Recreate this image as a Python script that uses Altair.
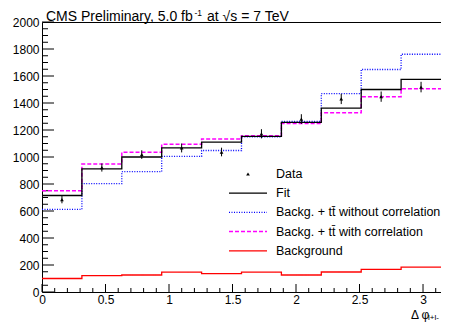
import altair as alt
import pandas as pd

# ---- data ----
edges = [0.0, 0.31416, 0.62832, 0.94248, 1.25664, 1.5708, 1.88496, 2.19911, 2.51327, 2.82743, 3.14159]
centers = [0.15708, 0.47124, 0.7854, 1.09956, 1.41372, 1.72788, 2.04204, 2.35619, 2.67035, 2.98451]

fit = [715, 912, 1000, 1067, 1110, 1153, 1257, 1362, 1500, 1575]
with_corr = [750, 948, 1035, 1094, 1134, 1158, 1249, 1327, 1447, 1506]
without_corr = [612, 803, 891, 1004, 1048, 1150, 1263, 1469, 1648, 1761]
background = [100, 122, 126, 147, 136, 147, 126, 148, 168, 185]
data_vals = [685, 922, 1018, 1067, 1037, 1172, 1281, 1430, 1447, 1518]
data_err = [28, 30, 32, 33, 32, 34, 36, 38, 38, 39]

y_major = [0, 200, 400, 600, 800, 1000, 1200, 1400, 1600, 1800, 2000]
y_minor = [50, 100, 150, 250, 300, 350, 450, 500, 550, 650, 700, 750, 850, 900, 950,
           1050, 1100, 1150, 1250, 1300, 1350, 1450, 1500, 1550, 1650, 1700, 1750,
           1850, 1900, 1950]
x_major = [0, 0.5, 1, 1.5, 2, 2.5, 3]
x_minor = [0.1, 0.2, 0.3, 0.4, 0.6, 0.7, 0.8, 0.9, 1.1, 1.2, 1.3, 1.4, 1.6, 1.7, 1.8, 1.9,
           2.1, 2.2, 2.3, 2.4, 2.6, 2.7, 2.8, 2.9, 3.1]

title_parts = ["CMS Preliminary, 5.0 fb", "-1", "at \u221as = 7 TeV"]
legend_labels = ["Data", "Fit", "Backg. + tt\u0304 without correlation",
                 "Backg. + tt\u0304 with correlation", "Background"]

FONT = "Liberation Sans"
W, H = 399, 270

xscale = alt.Scale(domain=[0, 3.14159], nice=False, zero=False)
yscale = alt.Scale(domain=[0, 2000], nice=False)
xaxis = alt.Axis(values=x_major, format="~g", ticks=False, domain=False, grid=False,
                 labelFont=FONT, labelFontSize=12, labelColor="black", labelPadding=2,
                 labelFlush=False, labelOverlap=False, title=None)
yaxis = alt.Axis(values=y_major, format="d", ticks=False, domain=False, grid=False,
                 labelFont=FONT, labelFontSize=12, labelColor="black", labelPadding=3,
                 labelFlush=False, labelOverlap=False, title=None)


def step_layer(vals, color, dash, width):
    df = pd.DataFrame({"x": edges, "y": vals + [vals[-1]]})
    return alt.Chart(df).mark_line(interpolate="step-after", color=color, strokeDash=dash,
                                   strokeWidth=width, clip=True).encode(
        x=alt.X("x:Q", scale=xscale, axis=xaxis),
        y=alt.Y("y:Q", scale=yscale, axis=yaxis))


blue = step_layer(without_corr, "#0000ff", [1, 1.5], 1.3)
magenta = step_layer(with_corr, "#ff00ff", [4, 2], 1.5)
black = step_layer(fit, "#000000", [1, 0], 1.3)
red = step_layer(background, "#ff0000", [1, 0], 1.3)

ddf = pd.DataFrame({"x": centers, "y": data_vals,
                    "lo": [v - e for v, e in zip(data_vals, data_err)],
                    "hi": [v + e for v, e in zip(data_vals, data_err)]})
errbars = alt.Chart(ddf).mark_rule(color="black", strokeWidth=1).encode(
    x=alt.X("x:Q", scale=xscale, axis=xaxis),
    y=alt.Y("lo:Q", scale=yscale, axis=yaxis), y2="hi:Q")
points = alt.Chart(ddf).mark_point(shape="triangle-up", filled=True, size=14,
                                   color="black", opacity=1).encode(
    x=alt.X("x:Q", scale=xscale, axis=xaxis),
    y=alt.Y("y:Q", scale=yscale, axis=yaxis))

# inward ticks (ROOT style)
ytm = alt.Chart(pd.DataFrame({"v": y_major})).mark_rule(color="black", strokeWidth=1).encode(
    y=alt.Y("v:Q", scale=yscale, axis=yaxis), x=alt.value(0), x2=alt.value(12))
ytn = alt.Chart(pd.DataFrame({"v": y_minor})).mark_rule(color="black", strokeWidth=1).encode(
    y=alt.Y("v:Q", scale=yscale, axis=yaxis), x=alt.value(0), x2=alt.value(6))
xtm = alt.Chart(pd.DataFrame({"v": x_major})).mark_rule(color="black", strokeWidth=1).encode(
    x=alt.X("v:Q", scale=xscale, axis=xaxis), y=alt.value(H), y2=alt.value(H - 8))
xtn = alt.Chart(pd.DataFrame({"v": x_minor})).mark_rule(color="black", strokeWidth=1).encode(
    x=alt.X("v:Q", scale=xscale, axis=xaxis), y=alt.value(H), y2=alt.value(H - 4))


def text_layer(t, x, y, size, align="left", baseline="alphabetic"):
    return alt.Chart(pd.DataFrame({"t": [t]})).mark_text(
        align=align, baseline=baseline, font=FONT, fontSize=size, color="black").encode(
        text="t:N", x=alt.value(x), y=alt.value(y))


t1 = text_layer(title_parts[0], 4, -1, 14)
t2 = text_layer(title_parts[1], 152.5, -6, 8.5)
t3 = text_layer(title_parts[2], 165, -1, 14)
xt1 = text_layer("\u0394\u2009\u03c6", 369, 296.5, 12)
xt2 = text_layer("l+l-", 386, 298, 8)

# legend (no frame)
leg_layers = []
ly0, lstep = 152, 19.2
leg_layers.append(alt.Chart(pd.DataFrame({"a": [0]})).mark_point(
    shape="triangle-up", filled=True, size=14, color="black", opacity=1).encode(
    x=alt.value(206), y=alt.value(ly0)))
styles = [("#000000", [1, 0], 1.3), ("#0000ff", [1, 1.5], 1.3),
          ("#ff00ff", [4, 2], 1.5), ("#ff0000", [1, 0], 1.3)]
for i, (c, d, w) in enumerate(styles, start=1):
    yy = ly0 + i * lstep
    leg_layers.append(alt.Chart(pd.DataFrame({"a": [0]})).mark_rule(
        color=c, strokeDash=d, strokeWidth=w).encode(
        x=alt.value(187), x2=alt.value(225), y=alt.value(yy)))
for i, lab in enumerate(legend_labels):
    yy = ly0 + i * lstep
    leg_layers.append(text_layer(lab, 234, yy, 12.5, baseline="middle"))

chart = alt.layer(
    ytn, ytm, xtn, xtm, blue, magenta, black, red, errbars, points,
    t1, t2, t3, xt1, xt2, *leg_layers
).properties(
    width=W, height=H,
    autosize=alt.AutoSizeParams(type="none"),
    padding={"left": 34, "top": 14, "right": 0, "bottom": 30},
    background="white",
).configure_view(stroke="black", strokeWidth=1)

chart.save("out.html", embed_options={"renderer": "svg", "actions": False})
